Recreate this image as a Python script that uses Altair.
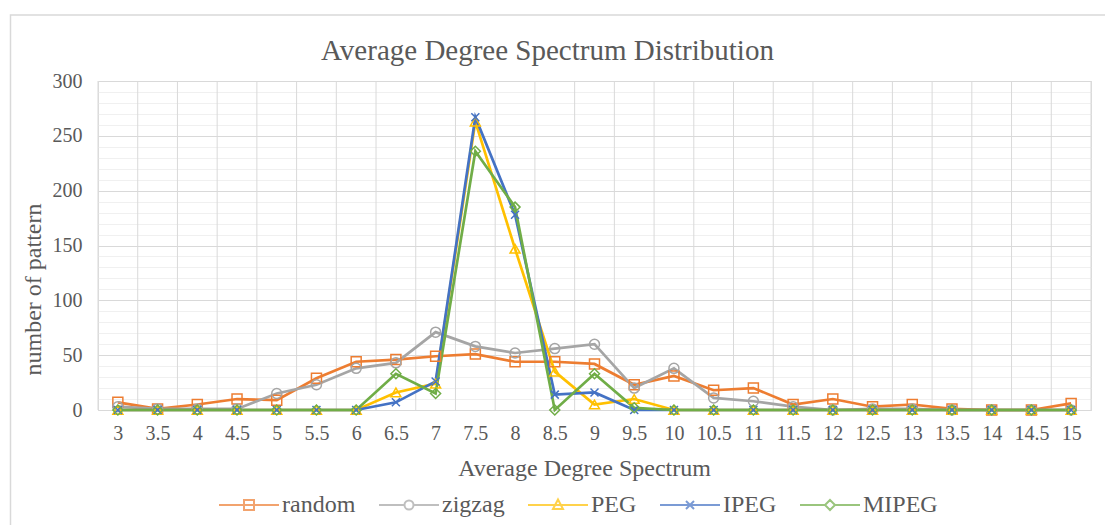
import altair as alt
import pandas as pd

# Average degree spectrum (category axis)
degrees = [3, 3.5, 4, 4.5, 5, 5.5, 6, 6.5, 7, 7.5, 8, 8.5, 9, 9.5, 10,
           10.5, 11, 11.5, 12, 12.5, 13, 13.5, 14, 14.5, 15]

# Number of patterns per construction method
random_vals = [7, 1, 5, 10, 9, 29, 44, 46, 49, 51, 44, 44, 42, 23, 31,
               18, 20, 5, 10, 3, 5, 1, 0, 0, 6]
zigzag_vals = [3, 1, 1, 1, 15, 23, 38, 43, 71, 58, 52, 56, 60, 20, 38,
               11, 8, 3, 0, 1, 1, 0, 0, 0, 0]
peg_vals = [0, 0, 0, 0, 0, 0, 0, 16, 24, 263, 147, 35, 5, 10, 0,
            0, 0, 0, 0, 0, 0, 0, 0, 0, 0]
ipeg_vals = [0, 0, 0, 0, 0, 0, 0, 7, 26, 267, 178, 14, 16, 0, 0,
             0, 0, 0, 0, 0, 0, 0, 0, 0, 0]
mipeg_vals = [0, 0, 0, 0, 0, 0, 0, 33, 15, 236, 185, 0, 33, 2, 0,
              0, 0, 0, 0, 0, 0, 0, 0, 0, 0]

series_names = ["random", "zigzag", "PEG", "IPEG", "MIPEG"]
series_values = [random_vals, zigzag_vals, peg_vals, ipeg_vals, mipeg_vals]
series_colors = ["#ED7D31", "#A5A5A5", "#FFC000", "#4472C4", "#70AD47"]

# marker shapes on the data points
marker_shapes = ["square", "circle", "triangle-up",
                 "M-0.8,-0.8L0.8,0.8M0.8,-0.8L-0.8,0.8", "diamond"]
# legend symbols: a line segment with the marker on it
legend_shapes = [
    "M-6,0H6M-1,-1H1V1H-1Z",
    "M-6,0H-0.9M0.9,0H6M0.9,0A0.9,0.9 0 1,1 -0.9,0A0.9,0.9 0 1,1 0.9,0Z",
    "M-6,0H6M0,-1.1L1,0.8H-1Z",
    "M-6,0H6M-0.8,-0.8L0.8,0.8M0.8,-0.8L-0.8,0.8",
    "M-6,0H-1M1,0H6M0,-1L1,0L0,1L-1,0Z",
]

rows = []
for name, vals in zip(series_names, series_values):
    for d, v in zip(degrees, vals):
        rows.append({"degree": d, "count": v, "series": name, "key": name})
df = pd.DataFrame(rows)

# category boundaries for the vertical gridlines
half_step = (degrees[1] - degrees[0]) / 2
bounds = [d - half_step for d in degrees] + [degrees[-1] + half_step]
bounds_df = pd.DataFrame({"b": bounds})

FONT = "Liberation Serif"
TEXT = "#595959"
GRID = "#D9D9D9"

x_scale = alt.Scale(domain=[bounds[0], bounds[-1]], nice=False, zero=False)
y_scale = alt.Scale(domain=[0, 300], nice=False)

x_enc = alt.X(
    "degree:Q", scale=x_scale,
    axis=alt.Axis(
        values=degrees, format="~g", grid=False, ticks=False, tickSize=0,
        labelFont=FONT, labelFontSize=20, labelColor=TEXT, labelPadding=13,
        domainColor=GRID, domainWidth=1,
        title="Average Degree Spectrum", titleFont=FONT, titleFontSize=24,
        titleFontWeight="normal", titleColor=TEXT,
        titleX=486, titleY=58, titleBaseline="middle", titleAlign="center",
    ),
)
y_enc = alt.Y(
    "count:Q", scale=y_scale,
    axis=alt.Axis(
        values=list(range(0, 301, 10)),
        labelExpr="datum.value % 50 === 0 ? datum.label : ''",
        gridColor={"condition": {"test": "datum.value % 50 === 0", "value": GRID},
                   "value": "#F0F0F0"},
        gridWidth=1, ticks=False, tickSize=0, domain=False,
        labelFont=FONT, labelFontSize=20, labelColor=TEXT, labelPadding=16,
        title="number of pattern", titleFont=FONT, titleFontSize=24,
        titleFontWeight="normal", titleColor=TEXT, titleAngle=-90,
        titleX=-65, titleY=208, titleBaseline="middle", titleAlign="center",
    ),
)

color_scale = alt.Scale(domain=series_names, range=series_colors)

base = alt.Chart(df)

frame = alt.Chart(pd.DataFrame({"f": [0]})).mark_rect(
    fill=None, stroke=GRID, strokeWidth=1.5
).encode(
    x=alt.value(-87.5), x2=alt.value(1015), y=alt.value(-66), y2=alt.value(460)
)

vgrid = alt.Chart(bounds_df).mark_rule(color=GRID, strokeWidth=1).encode(
    x=alt.X("b:Q", scale=x_scale)
)

lines = base.mark_line(strokeWidth=2.7).encode(
    x=x_enc, y=y_enc,
    color=alt.Color("series:N", scale=color_scale, legend=None),
    order=alt.Order("degree:Q"),
)

points = base.mark_point(filled=False, size=100, strokeWidth=1.5, opacity=1).encode(
    x=x_enc, y=y_enc,
    color=alt.Color("series:N", scale=color_scale, legend=None),
    shape=alt.Shape("series:N",
                    scale=alt.Scale(domain=series_names, range=marker_shapes),
                    legend=None),
)

legend_def = alt.Legend(
    orient="none", direction="horizontal", legendX=139, legendY=412,
    title=None, labelFont=FONT, labelFontSize=24, labelColor=TEXT,
    symbolSize=100, symbolStrokeWidth=2, labelOffset=21, columnPadding=19,
    padding=0, symbolFillColor="transparent",
)
legend_layer = base.mark_point(filled=False).encode(
    x=x_enc, y=y_enc,
    color=alt.Color("key:N", scale=alt.Scale(domain=series_names, range=series_colors),
                    legend=legend_def),
    shape=alt.Shape("key:N",
                    scale=alt.Scale(domain=series_names, range=legend_shapes),
                    legend=legend_def),
).transform_filter("false")

chart = alt.layer(frame, vgrid, lines, points, legend_layer).resolve_scale(
    color="independent", shape="independent"
).properties(
    width=993, height=329,
    autosize=alt.AutoSizeParams(type="none"),
    padding={"left": 98, "top": 81, "right": 14, "bottom": 115},
    title=alt.TitleParams(
        "Average Degree Spectrum Distribution", font=FONT, fontSize=29,
        fontWeight="normal", color=TEXT, anchor="middle", frame="group",
        dx=-47, offset=-75, baseline="alphabetic",
    ),
).configure_view(stroke=None).configure(background="white").configure_legend(
    labelFont=FONT, labelFontSize=24, labelColor=TEXT
)

chart.save("out.html", embed_options={"renderer": "svg", "actions": False})
